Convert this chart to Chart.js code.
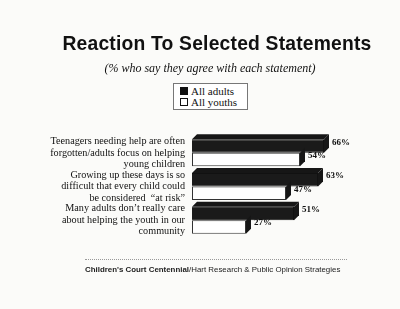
<!DOCTYPE html>
<html>
<head>
<meta charset="utf-8">
<script src="https://cdn.jsdelivr.net/npm/chart.js@4.4.1/dist/chart.umd.min.js"></script>
<style>
  body { margin: 0; background: #fbfbf9; }
  #wrap { position: relative; width: 400px; height: 309px; overflow: hidden; }
  #c { position: absolute; left: 0; top: 0; }
  .title { position: absolute; left: 0; width: 434px; top: 33px; text-align: center;
    font-family: "Liberation Sans", Arial, sans-serif; font-weight: bold; font-size: 19.3px; color: #111; letter-spacing: 0.2px; }
  .sub { position: absolute; left: 0; width: 420px; top: 61px; text-align: center;
    font-family: "Liberation Serif", serif; font-style: italic; font-size: 12px; color: #111; }
  .legend { position: absolute; left: 173px; top: 83px; width: 73px; height: 25px; border: 1px solid #777;
    background: #fff; font-family: "Liberation Serif", serif; font-size: 11px; color: #111; }
  .legend div { position: absolute; left: 6px; white-space: nowrap; }
  .legend span { display: inline-block; width: 6px; height: 6px; border: 1px solid #111; margin-right: 3px; vertical-align: 0px; }
  .footer { position: absolute; left: 85px; top: 265px; font-family: "Liberation Sans", Arial, sans-serif;
    font-size: 7.9px; color: #222; white-space: nowrap; }
  .rule { position: absolute; left: 85px; width: 262px; top: 259px; border-top: 1px dotted #999; }
</style>
</head>
<body>
<div id="wrap">
  <canvas id="c" width="400" height="309"></canvas>
  <div class="title">Reaction To Selected Statements</div>
  <div class="sub">(% who say they agree with each statement)</div>
  <div class="legend">
    <div style="top:1px"><span style="background:#111"></span>All adults</div>
    <div style="top:12px"><span style="background:#fff"></span>All youths</div>
  </div>
  <div class="rule"></div>
  <div class="footer"><b>Children's Court Centennial</b>/Hart Research &amp; Public Opinion Strategies</div>
</div>
<script>
var statements = [
  ['Teenagers needing help are often', 'forgotten/adults focus on helping', 'young children'],
  ['Growing up these days is so', 'difficult that every child could', 'be considered  \u201cat risk\u201d'],
  ['Many adults don\u2019t really care', 'about helping the youth in our', 'community']
];
var allAdults = [66, 63, 51];
var allYouths = [54, 47, 27];

// 3D side faces + value labels
var bars3d = {
  id: 'bars3d',
  afterDatasetsDraw: function (chart) {
    var ctx = chart.ctx;
    var d = 5;
    ctx.save();
    chart.data.datasets.forEach(function (ds, i) {
      chart.getDatasetMeta(i).data.forEach(function (bar, j) {
        var x0 = bar.base, x1 = bar.x;
        var top = bar.y - bar.height / 2, bottom = bar.y + bar.height / 2;
        ctx.fillStyle = '#161616';
        // top face
        if (i === 0) {
          ctx.beginPath();
          ctx.moveTo(x0, top);
          ctx.lineTo(x0 + d, top - d);
          ctx.lineTo(x1 + d, top - d);
          ctx.lineTo(x1, top);
          ctx.closePath();
          ctx.fill();
        }
        // right face
        ctx.beginPath();
        ctx.moveTo(x1, top);
        ctx.lineTo(x1 + d, top - d);
        ctx.lineTo(x1 + d, bottom - d);
        ctx.lineTo(x1, bottom);
        ctx.closePath();
        ctx.fill();
        // label
        ctx.fillStyle = '#111';
        ctx.font = 'bold 9px "Liberation Serif", serif';
        ctx.textBaseline = 'middle';
        ctx.fillText(ds.data[j] + '%', x1 + d + 3, top + 3);
      });
    });
    ctx.restore();
  }
};

new Chart(document.getElementById('c'), {
  type: 'bar',
  data: {
    labels: statements,
    datasets: [
      { label: 'All adults', data: allAdults, backgroundColor: '#1a1a1a', borderColor: '#111', borderWidth: 1 },
      { label: 'All youths', data: allYouths, backgroundColor: '#ffffff', borderColor: '#333', borderWidth: 1, borderSkipped: false }
    ]
  },
  options: {
    indexAxis: 'y',
    responsive: false,
    animation: false,
    categoryPercentage: 0.8,
    barPercentage: 1,
    layout: { padding: { top: 136, bottom: 72, right: 8, left: 0 } },
    plugins: { legend: { display: false }, tooltip: { enabled: false } },
    scales: {
      x: { display: false, min: 0, max: 100 },
      y: {
        grid: { display: false, drawTicks: false },
        border: { display: false },
        afterFit: function (s) { s.width = 192; },
        ticks: {
          color: '#111',
          padding: 7,
          autoSkip: false,
          font: { family: '"Liberation Serif", serif', size: 10.2, lineHeight: 1.12 }
        }
      }
    }
  },
  plugins: [bars3d]
});
</script>
</body>
</html>
